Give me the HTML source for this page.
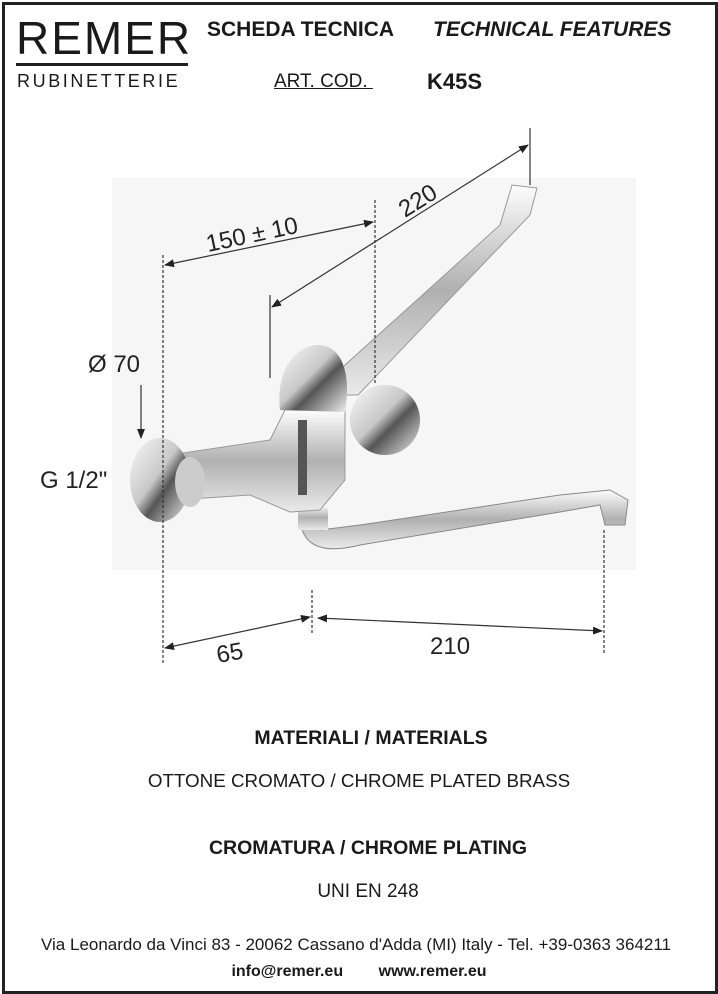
<!DOCTYPE html>
<html><head><meta charset="utf-8"><style>
body{margin:0;background:#fff;}
.pg{position:relative;width:718px;height:994px;overflow:hidden;font-family:"Liberation Sans",sans-serif;}
.frame{position:absolute;left:2px;top:2px;width:710px;height:986px;border:3px solid #222;}
.t{position:absolute;white-space:nowrap;color:#1a1a1a;}
</style></head><body><div class="pg">
<div class="frame"></div>
<div class="t" style="left:16px;top:11px;font-size:46px;letter-spacing:2px;">REMER</div>
<div style="position:absolute;left:16px;top:63px;width:172px;height:3px;background:#222"></div>
<div class="t" style="left:17px;top:71px;font-size:18px;letter-spacing:2.6px;">RUBINETTERIE</div>
<div class="t" style="left:207px;top:18px;font-size:21px;font-weight:bold;">SCHEDA TECNICA</div>
<div class="t" style="left:433px;top:18px;font-size:21px;font-weight:bold;font-style:italic;">TECHNICAL FEATURES</div>
<div class="t" style="left:274px;top:71px;font-size:19px;text-decoration:underline;">ART. COD.&nbsp;</div>
<div class="t" style="left:427px;top:69px;font-size:22px;font-weight:bold;">K45S</div>

<svg style="position:absolute;left:0;top:0" width="718" height="994">
<defs>
<linearGradient id="cr" x1="0" y1="0" x2="1" y2="1"><stop offset="0" stop-color="#fafafa"/><stop offset=".45" stop-color="#c8c8c8"/><stop offset=".6" stop-color="#555"/><stop offset="1" stop-color="#eee"/></linearGradient>
<linearGradient id="cr2" x1="0" y1="0" x2="0" y2="1"><stop offset="0" stop-color="#fdfdfd"/><stop offset=".5" stop-color="#b0b0b0"/><stop offset="1" stop-color="#eaeaea"/></linearGradient>
<marker id="a" markerWidth="10" markerHeight="8" refX="9" refY="4" orient="auto" markerUnits="userSpaceOnUse"><path d="M0,0 L10,4 L0,8 z" fill="#222"/></marker>
<marker id="b" markerWidth="10" markerHeight="8" refX="1" refY="4" orient="auto" markerUnits="userSpaceOnUse"><path d="M10,0 L0,4 L10,8 z" fill="#222"/></marker>
</defs>
<rect x="112" y="178" width="524" height="392" fill="#f6f6f6"/>
<path d="M322,395 L345,365 L500,225 L512,185 L537,188 L530,215 L358,395 Z" fill="url(#cr2)" stroke="#999" stroke-width="1"/>
<circle cx="385" cy="420" r="35" fill="url(#cr)"/>
<path d="M300,515 C300,545 320,555 360,545 L560,512 L600,505 L605,525 L625,525 L628,500 L610,490 L560,495 L360,525 L320,530 Z" fill="url(#cr2)" stroke="#888"/>
<rect x="298" y="505" width="30" height="25" fill="url(#cr2)"/>
<path d="M170,455 L270,440 L285,410 L345,410 L345,480 L320,510 L290,512 L250,495 L175,500 Z" fill="url(#cr2)" stroke="#999"/>
<path d="M280,410 C275,365 300,345 318,345 C340,345 352,370 345,412 Z" fill="url(#cr)"/>
<rect x="298" y="420" width="9" height="75" fill="#555"/>
<ellipse cx="160" cy="480" rx="30" ry="42" fill="url(#cr)"/>
<ellipse cx="190" cy="482" rx="15" ry="25" fill="#ccc"/>
<g stroke="#333" stroke-width="1.2" fill="none">
<line x1="163" y1="255" x2="163" y2="665" stroke-dasharray="3,2"/>
<line x1="375" y1="200" x2="375" y2="385" stroke-dasharray="3,2"/>
<line x1="312" y1="590" x2="312" y2="635" stroke-dasharray="3,2"/>
<line x1="604" y1="530" x2="604" y2="655" stroke-dasharray="3,2"/>
<line x1="530" y1="128" x2="530" y2="185"/>
<line x1="270" y1="295" x2="270" y2="378"/>
<line x1="165" y1="265" x2="373" y2="222" marker-start="url(#b)" marker-end="url(#a)"/>
<line x1="272" y1="307" x2="528" y2="145" marker-start="url(#b)" marker-end="url(#a)"/>
<line x1="141" y1="385" x2="141" y2="438" marker-end="url(#a)"/>
<line x1="165" y1="648" x2="310" y2="617" marker-start="url(#b)" marker-end="url(#a)"/>
<line x1="318" y1="618" x2="602" y2="631" marker-start="url(#b)" marker-end="url(#a)"/>
</g>
<g font-family="Liberation Sans,sans-serif" font-size="24" fill="#222">
<text x="208" y="252" transform="rotate(-12 208 252)">150 ± 10</text>
<text x="405" y="218" transform="rotate(-32 405 218)">220</text>
<text x="88" y="372">Ø 70</text>
<text x="40" y="488">G 1/2"</text>
<text x="218" y="663" transform="rotate(-10 218 663)">65</text>
<text x="430" y="654">210</text>
</g>
</svg>
<div class="t" style="left:0;width:742px;text-align:center;top:727px;font-size:19.5px;font-weight:bold;">MATERIALI / MATERIALS</div>
<div class="t" style="left:0;width:718px;text-align:center;top:770px;font-size:18.8px;">OTTONE CROMATO / CHROME PLATED BRASS</div>
<div class="t" style="left:0;width:736px;text-align:center;top:837px;font-size:19.5px;font-weight:bold;">CROMATURA / CHROME PLATING</div>
<div class="t" style="left:0;width:736px;text-align:center;top:881px;font-size:19px;">UNI EN 248</div>
<div class="t" style="left:0;width:712px;text-align:center;top:935px;font-size:17px;">Via Leonardo da Vinci 83 - 20062 Cassano d'Adda (MI) Italy - Tel. +39-0363 364211</div>
<div class="t" style="left:0;width:718px;text-align:center;top:963px;font-size:16px;font-weight:bold;">info@remer.eu&nbsp;&nbsp;&nbsp;&nbsp;&nbsp;&nbsp;&nbsp;&nbsp;www.remer.eu</div>
</div></body></html>
